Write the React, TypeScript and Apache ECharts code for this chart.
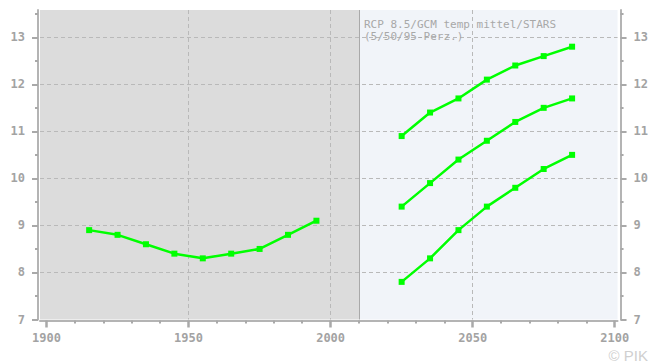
import React, { useEffect, useRef } from "react";
import * as echarts from "echarts";

// ---- data ----
const histYears = [1915, 1925, 1935, 1945, 1955, 1965, 1975, 1985, 1995];
const histValues = [8.9, 8.8, 8.6, 8.4, 8.3, 8.4, 8.5, 8.8, 9.1];

const futYears = [2025, 2035, 2045, 2055, 2065, 2075, 2085];
const p95Values = [10.9, 11.4, 11.7, 12.1, 12.4, 12.6, 12.8];
const p50Values = [9.4, 9.9, 10.4, 10.8, 11.2, 11.5, 11.7];
const p5Values = [7.8, 8.3, 8.9, 9.4, 9.8, 10.2, 10.5];

const xMajorTicks = [1900, 1950, 2000, 2050, 2100];
const xMinorTicks = [1910, 1920, 1930, 1940, 1960, 1970, 1980, 1990, 2010, 2020, 2030, 2040, 2060, 2070, 2080, 2090];
const xGridValues = [1950, 2000, 2050];
const yMajorTicks = [7, 8, 9, 10, 11, 12, 13];
const yMinorTicks = [7.5, 8.5, 9.5, 10.5, 11.5, 12.5, 13.5];
const yGridValues = [8, 9, 10, 11, 12, 13];

const splitYear = 2010;
const titleLine1 = "RCP 8.5/GCM temp mittel/STARS";
const titleLine2 = "(5/50/95-Perz.)";
const copyright = "© PIK";

const X_MIN = 1897.7;
const X_MAX = 2101;
const Y_MIN = 7;
const Y_MAX = 13.58;

const pairs = (xs: number[], ys: number[]) => xs.map((x, i) => [x, ys[i]]);

export default function App() {
  const ref = useRef<HTMLDivElement>(null);

  useEffect(() => {
    if (!ref.current) return;
    const chart = echarts.init(ref.current, null, { renderer: "svg" });

    const tickColor = "#a9a9a9";
    const lineColor = "#b4b4b4";
    const labelStyle = {
      color: "#a3a3a3",
      fontFamily: "DejaVu Sans Mono",
      fontWeight: "bold" as const,
      fontSize: 12,
      formatter: (v: number) => String(v),
    };
    const gridLine = { color: "#b9b9b9", type: [4, 3] as any, width: 1 };

    const baseX = { type: "value" as const, min: X_MIN, max: X_MAX, gridIndex: 0, position: "bottom" as const };
    const baseY = { type: "value" as const, min: Y_MIN, max: Y_MAX, gridIndex: 0 };

    const lineSeries = (name: string, data: number[][]) => ({
      name,
      type: "line",
      xAxisIndex: 0,
      yAxisIndex: 0,
      data,
      z: 3,
      symbol: "rect",
      symbolSize: 6,
      showSymbol: true,
      lineStyle: { color: "#00ff00", width: 2.5 },
      itemStyle: { color: "#00ff00" },
    });

    chart.setOption({
      animation: false,
      backgroundColor: "#ffffff",
      grid: { left: 40, top: 10, width: 579.5, height: 309.5, containLabel: false },
      xAxis: [
        {
          ...baseX,
          offset: 1,
          z: 2,
          axisLine: { show: true, onZero: false, lineStyle: { color: lineColor, width: 2 } },
          axisTick: { show: true, customValues: xMajorTicks, length: 7, lineStyle: { color: tickColor, width: 2.5 } },
          axisLabel: { show: true, customValues: xMajorTicks, margin: 11, ...labelStyle },
          splitLine: { show: false },
        },
        {
          ...baseX,
          offset: 1,
          z: 2,
          axisLine: { show: false },
          axisTick: { show: true, customValues: xMinorTicks, length: 3, lineStyle: { color: tickColor, width: 2 } },
          axisLabel: { show: false },
          splitLine: { show: false },
        },
        {
          ...baseX,
          z: 2,
          axisLine: { show: false },
          axisTick: { show: false, customValues: xGridValues },
          axisLabel: { show: false },
          splitLine: { show: true, customValues: xGridValues, lineStyle: gridLine },
        },
      ],
      yAxis: [
        {
          ...baseY,
          position: "left",
          offset: 2,
          z: 2,
          axisLine: { show: true, onZero: false, lineStyle: { color: lineColor, width: 2 } },
          axisTick: { show: true, customValues: yMajorTicks, length: 6, lineStyle: { color: tickColor, width: 2 } },
          axisLabel: { show: true, customValues: yMajorTicks, margin: 13, ...labelStyle },
          splitLine: { show: false },
        },
        {
          ...baseY,
          position: "left",
          offset: 2,
          z: 2,
          axisLine: { show: false },
          axisTick: { show: true, customValues: yMinorTicks, length: 3, lineStyle: { color: tickColor, width: 2 } },
          axisLabel: { show: false },
          splitLine: { show: false },
        },
        {
          ...baseY,
          position: "right",
          offset: 3,
          z: 2,
          axisLine: { show: true, onZero: false, lineStyle: { color: lineColor, width: 2 } },
          axisTick: { show: true, customValues: yMajorTicks, length: 6, lineStyle: { color: tickColor, width: 2 } },
          axisLabel: { show: true, customValues: yMajorTicks, margin: 13, ...labelStyle },
          splitLine: { show: false },
        },
        {
          ...baseY,
          position: "right",
          offset: 3,
          z: 2,
          axisLine: { show: false },
          axisTick: { show: true, customValues: yMinorTicks, length: 3, lineStyle: { color: tickColor, width: 2 } },
          axisLabel: { show: false },
          splitLine: { show: false },
        },
        {
          ...baseY,
          position: "left",
          z: 2,
          axisLine: { show: false },
          axisTick: { show: false, customValues: yGridValues },
          axisLabel: { show: false },
          splitLine: { show: true, customValues: yGridValues, lineStyle: gridLine },
        },
      ],
      series: [
        {
          name: "bg",
          type: "line",
          xAxisIndex: 0,
          yAxisIndex: 0,
          data: [],
          z: 0,
          markArea: {
            silent: true,
            z: 1,
            data: [
              [{ xAxis: X_MIN, itemStyle: { color: "#dcdcdc" } }, { xAxis: splitYear }],
              [{ xAxis: splitYear, itemStyle: { color: "#f1f4f9" } }, { xAxis: X_MAX }],
            ],
          },
          markLine: {
            silent: true,
            symbol: "none",
            label: { show: false },
            lineStyle: { color: "#a9a9a9", type: "solid", width: 1 },
            data: [{ xAxis: splitYear }],
          },
        },
        lineSeries("hist", pairs(histYears, histValues)),
        lineSeries("p95", pairs(futYears, p95Values)),
        lineSeries("p50", pairs(futYears, p50Values)),
        lineSeries("p5", pairs(futYears, p5Values)),
      ],
      graphic: [
        {
          type: "text",
          left: 364,
          top: 19,
          z: 10,
          style: {
            text: titleLine1,
            fill: "#a8a8a8",
            font: "11px 'DejaVu Sans Mono'",
          },
        },
        {
          type: "text",
          left: 364,
          top: 31,
          z: 10,
          style: {
            text: titleLine2,
            fill: "#a8a8a8",
            font: "11px 'DejaVu Sans Mono'",
          },
        },
        {
          type: "text",
          right: 3,
          top: 348,
          z: 10,
          style: {
            text: copyright,
            fill: "#cfcfcf",
            font: "15px 'Liberation Sans'",
          },
        },
      ],
    });

    return () => chart.dispose();
  }, []);

  return (
    <div
      ref={ref}
      style={{ position: "fixed", left: 0, top: 0, width: 651, height: 363 }}
    />
  );
}
